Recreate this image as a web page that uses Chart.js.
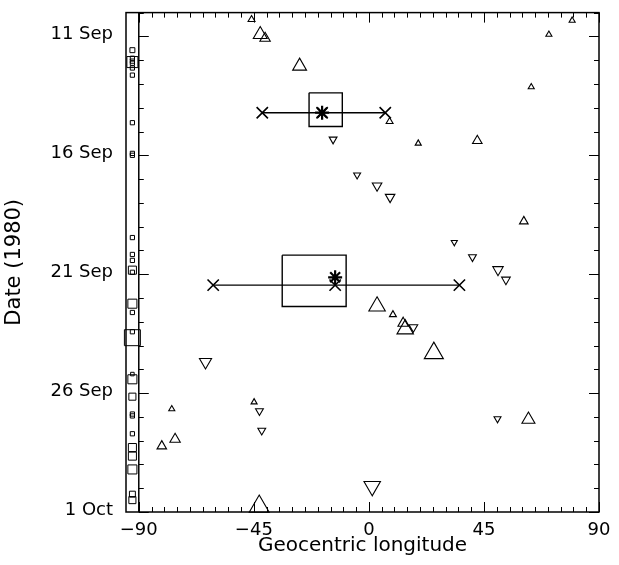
<!DOCTYPE html>
<html><head><meta charset="utf-8">
<script src="https://cdn.jsdelivr.net/npm/chart.js@4/dist/chart.umd.min.js"></script>
<style>html,body{margin:0;padding:0;background:#fff}</style>
</head><body>
<canvas id="c" width="619" height="565"></canvas>
<script>
// ---- axis ticks ----
const xTickValues = [-90, -45, 0, 45, 90];
const xTickLabels = ['\u221290', '\u221245', '0', '45', '90'];
const yTickValues = [11, 16, 21, 26, 31];          // day of September (31 = 1 Oct)
const yTickLabels = ['11 Sep', '16 Sep', '21 Sep', '26 Sep', '1 Oct'];

// ---- upward triangles: longitude, date (day of Sep), size class ----
const upLon  = [-45.9, -42.5, -40.6, -27.1, 70.4, 79.5, 63.5, 8.1, 19.3, 42.4, 60.6, 3.2, 9.4, 13.4, 14.2, 25.4, -77.1, -75.8, -81.0, -44.9, -42.9, 62.4];
const upDate = [10.29, 10.92, 11.08, 12.25, 10.92, 10.33, 13.13, 14.58, 15.5, 15.39, 18.78, 22.35, 22.7, 23.06, 23.31, 24.32, 26.67, 27.94, 28.23, 26.38, 30.77, 27.11];
const upSize = [4, 8, 6, 8, 3.5, 3.5, 3.5, 4, 3.5, 5.5, 5, 9.5, 4, 6, 9.5, 11, 3.5, 6, 5.5, 3.5, 11.5, 7.5];

// ---- downward triangles ----
const dnLon  = [-14.0, -4.6, 3.2, 8.3, 33.4, 40.5, 50.5, 53.6, 17.4, -63.9, -42.8, -41.9, 1.3, 50.3];
const dnDate = [15.33, 16.83, 17.28, 17.76, 19.66, 20.28, 20.81, 21.23, 23.23, 24.69, 26.75, 27.57, 29.92, 27.08];
const dnSize = [4.5, 4, 5.5, 5.5, 3.5, 4.5, 6, 5, 5, 7, 4.5, 4.5, 9.5, 4];

// ---- squares in the left strip (no longitude) ----
const sqLon  = -92.5;
const sqDate = [11.58, 12.08, 11.92, 12.04, 12.13, 12.33, 12.63, 14.63, 15.92, 16.0, 19.46, 20.17, 20.42, 20.83, 20.92, 22.24, 22.61, 23.42, 23.67, 25.2, 25.42, 26.15, 26.88, 26.96, 27.71, 28.29, 28.65, 29.21, 30.25, 30.5];
const sqSize = [3.5, 7.8, 3, 3, 3, 3, 3, 3, 3, 3, 3, 3, 3, 5.7, 3, 6.4, 3, 3, 11.3, 2.5, 6.4, 5, 3, 3, 3, 5.7, 5.7, 6.4, 4.2, 5];

// ---- boxes (longitude range x date range) ----
const boxLonMin  = [-23.4, -33.9];
const boxLonMax  = [-10.4, -8.9];
const boxDateMin = [13.375, 20.2];
const boxDateMax = [14.79, 22.36];

// ---- horizontal ranges with X ends ----
const barDate   = [14.21, 21.46];
const barLonMin = [-41.7, -60.9];
const barLonMax = [6.4, 35.4];
const barLonMid = [-18.3, -13.2];

// ---- asterisks ----
const starLon  = [-18.3, -13.2];
const starDate = [14.21, 21.13];

const pts = (xs, ys) => ys.map((y, i) => ({x: Array.isArray(xs) ? xs[i] : xs, y}));
const FONT = 'DejaVu Sans';

const datasets = [];
datasets.push({data: pts(sqLon, sqDate), pointStyle: 'rect', pointRadius: sqSize, borderColor: '#000', backgroundColor: 'rgba(0,0,0,0)', pointBorderWidth: 1, clip: false});
datasets.push({data: pts(upLon, upDate), pointStyle: 'triangle', pointRadius: upSize, borderColor: '#000', backgroundColor: 'rgba(0,0,0,0)', pointBorderWidth: 1.1, clip: false});
datasets.push({data: pts(dnLon, dnDate), pointStyle: 'triangle', rotation: 180, pointRadius: dnSize, borderColor: '#000', backgroundColor: 'rgba(0,0,0,0)', pointBorderWidth: 1.1, clip: false});
boxLonMin.forEach((_, i) => {
  datasets.push({type: 'line', data: [
    {x: boxLonMin[i], y: boxDateMin[i]}, {x: boxLonMax[i], y: boxDateMin[i]},
    {x: boxLonMax[i], y: boxDateMax[i]}, {x: boxLonMin[i], y: boxDateMax[i]},
    {x: boxLonMin[i], y: boxDateMin[i]}],
    borderColor: '#000', borderWidth: 1.4, pointRadius: 0, fill: false, tension: 0});
});
barDate.forEach((_, i) => {
  datasets.push({type: 'line', data: [{x: barLonMin[i], y: barDate[i]}, {x: barLonMax[i], y: barDate[i]}],
    borderColor: '#000', borderWidth: 1.4, pointStyle: 'crossRot', pointRadius: 8, pointBorderWidth: 1.6, fill: false});
});
datasets.push({data: pts(barLonMid, barDate), pointStyle: 'crossRot', pointRadius: 8, borderColor: '#000', pointBorderWidth: 1.6});
datasets.push({data: pts(starLon, starDate), pointStyle: 'star', pointRadius: 7, borderColor: '#000', pointBorderWidth: 2.2});

const framePlugin = {
  id: 'frame',
  afterDraw(chart) {
    const {ctx, chartArea: a, scales: {x, y}} = chart;
    ctx.save();
    ctx.strokeStyle = '#000';
    ctx.lineWidth = 1;
    const x90 = x.getPixelForValue(xTickValues[0]);
    ctx.beginPath();
    for (let v = xTickValues[0]; v <= xTickValues[xTickValues.length - 1]; v += 5) {
      const px = Math.round(x.getPixelForValue(v)) + 0.5;
      const L = xTickValues.includes(v) ? 10 : 5;
      ctx.moveTo(px, a.bottom); ctx.lineTo(px, a.bottom - L);
      ctx.moveTo(px, a.top); ctx.lineTo(px, a.top + L);
    }
    for (let d = y.min; d <= y.max; d++) {
      const py = Math.round(y.getPixelForValue(d)) + 0.5;
      const L = yTickValues.includes(d) ? 10 : 5;
      ctx.moveTo(x90, py); ctx.lineTo(x90 + L, py);
      ctx.moveTo(a.right, py); ctx.lineTo(a.right - L, py);
    }
    ctx.stroke();
    ctx.lineWidth = 1.5;
    ctx.strokeRect(a.left, a.top, a.right - a.left, a.bottom - a.top);
    ctx.beginPath(); ctx.moveTo(x90, a.top); ctx.lineTo(x90, a.bottom); ctx.stroke();
    ctx.restore();
  }
};

new Chart(document.getElementById('c'), {
  type: 'scatter',
  data: {datasets},
  options: {
    responsive: false, devicePixelRatio: 1, animation: false,
    layout: {padding: {top: 8, right: 20, left: 0, bottom: 0}},
    plugins: {legend: {display: false}, tooltip: {enabled: false}},
    scales: {
      x: {
        type: 'linear', min: -95, max: 90,
        grid: {display: false, drawTicks: false}, border: {display: false},
        afterBuildTicks: s => { s.ticks = xTickValues.map(v => ({value: v})); },
        afterFit: s => { s.height = 53; s.paddingLeft = 0; s.paddingRight = 0; },
        ticks: {color: '#000', font: {family: FONT, size: 18}, padding: 8, maxRotation: 0, autoSkip: false,
          callback: v => xTickLabels[xTickValues.indexOf(v)]},
        title: {display: true, text: 'Geocentric longitude', color: '#000', font: {family: FONT, size: 20}, padding: {top: 0, bottom: 7}}
      },
      y: {
        type: 'linear', min: 10, max: 31, reverse: true,
        grid: {display: false, drawTicks: false}, border: {display: false},
        afterBuildTicks: s => { s.ticks = yTickValues.map(v => ({value: v})); },
        afterFit: s => { s.width = 126; s.paddingTop = 0; s.paddingBottom = 0; },
        ticks: {color: '#000', font: {family: FONT, size: 18}, padding: 13, autoSkip: false, labelOffset: -2,
          callback: v => yTickLabels[yTickValues.indexOf(v)]},
        title: {display: true, text: 'Date (1980)', color: '#000', font: {family: FONT, size: 21}, padding: {top: 2, bottom: 0}}
      }
    }
  },
  plugins: [framePlugin]
});
</script>
</body></html>
